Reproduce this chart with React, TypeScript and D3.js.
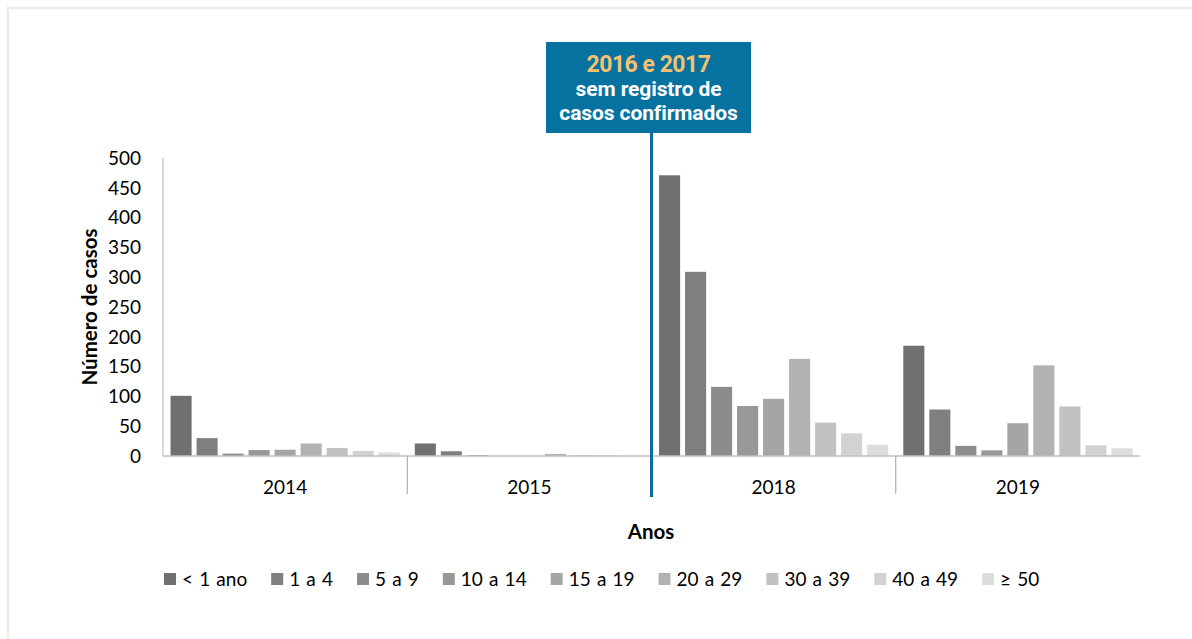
import React, { useEffect, useRef } from "react";
import * as d3 from "d3";

const years = ["2014", "2015", "2018", "2019"];
const ageGroups = ["< 1 ano", "1 a 4", "5 a 9", "10 a 14", "15 a 19", "20 a 29", "30 a 39", "40 a 49", "≥ 50"];
const colors = ["#707070", "#7f7f7f", "#8c8c8c", "#989898", "#a5a5a5", "#b2b2b2", "#c2c2c2", "#d2d2d2", "#dddddd"];
const values2014 = [101, 30, 4, 10, 10.5, 21, 13.5, 8.5, 6];
const values2015 = [21, 8, 1.5, 0, 0, 3.5, 1, 1, 0];
const values2018 = [471, 309, 116, 84, 96, 163, 56, 38, 19];
const values2019 = [185, 78, 17, 9.5, 55, 152, 83, 18, 13];
const seriesByYear = [values2014, values2015, values2018, values2019];
const yTicks = [0, 50, 100, 150, 200, 250, 300, 350, 400, 450, 500];

const FONT = "Lato, 'Open Sans', sans-serif";
const FS = 19;

export default function App() {
  const ref = useRef<SVGSVGElement | null>(null);

  useEffect(() => {
    const svg = d3.select(ref.current);
    svg.selectAll("*").remove();

    const W = 1192, H = 639;
    const left = 163, right = 1140, top = 158, bottom = 456;

    // frame
    svg.append("path")
      .attr("d", `M8,${H} L8,8 L${W},8`)
      .attr("fill", "none")
      .attr("stroke", "#ebebe7")
      .attr("stroke-width", 2.5);

    const x = d3.scaleBand<string>().domain(years).range([left, right]).padding(0);
    const xi = d3.scaleBand<string>().domain(ageGroups).range([0, x.bandwidth()]).paddingInner(0.19).paddingOuter(0.29);
    const y = d3.scaleLinear().domain([0, 500]).range([bottom, top]);

    // bars
    years.forEach((yr, gi) => {
      const g = svg.append("g").attr("transform", `translate(${x(yr)},0)`);
      seriesByYear[gi].forEach((v, si) => {
        g.append("rect")
          .attr("x", xi(ageGroups[si])!)
          .attr("y", y(v))
          .attr("width", xi.bandwidth())
          .attr("height", Math.max(0, y(0) - y(v)))
          .attr("fill", colors[si]);
      });
    });

    // axes
    svg.append("line").attr("x1", left).attr("x2", left).attr("y1", top).attr("y2", bottom)
      .attr("stroke", "#bfbfbf").attr("stroke-width", 1.2);
    svg.append("line").attr("x1", left).attr("x2", right).attr("y1", bottom).attr("y2", bottom)
      .attr("stroke", "#bfbfbf").attr("stroke-width", 1.5);

    // group separators
    years.slice(1).forEach((yr) => {
      const xx = x(yr)!;
      svg.append("line").attr("x1", xx).attr("x2", xx).attr("y1", bottom).attr("y2", 494)
        .attr("stroke", "#a0a0a0").attr("stroke-width", 1);
    });

    // y ticks
    yTicks.forEach((t) => {
      svg.append("text")
        .attr("x", 141).attr("y", y(t)).attr("dy", "0.36em")
        .attr("text-anchor", "end")
        .attr("font-family", FONT).attr("font-size", FS).attr("fill", "#000")
        .text(t);
    });

    // x labels
    years.forEach((yr) => {
      svg.append("text")
        .attr("x", x(yr)! + x.bandwidth() / 2).attr("y", 494)
        .attr("text-anchor", "middle")
        .attr("font-family", FONT).attr("font-size", FS).attr("fill", "#000")
        .text(yr);
    });

    // axis titles
    svg.append("text")
      .attr("transform", `translate(97,${(top + bottom) / 2}) rotate(-90)`)
      .attr("text-anchor", "middle")
      .attr("font-family", FONT).attr("font-weight", "bold").attr("font-size", 20.5)
      .text("Número de casos");
    svg.append("text")
      .attr("x", 651).attr("y", 539)
      .attr("text-anchor", "middle")
      .attr("font-family", FONT).attr("font-weight", "bold").attr("font-size", 20.5)
      .text("Anos");

    // legend
    let lx = 164;
    const ly = 573;
    ageGroups.forEach((name, i) => {
      svg.append("rect").attr("x", lx).attr("y", ly).attr("width", 12).attr("height", 12).attr("fill", colors[i]);
      const t = svg.append("text")
        .attr("x", lx + 18).attr("y", ly + 13)
        .attr("font-family", FONT).attr("font-size", FS).attr("fill", "#000")
        .attr("word-spacing", 1.3)
        .text(name);
      const w = (t.node() as SVGTextElement).getComputedTextLength();
      lx = lx + 18 + w + 24;
    });

    // annotation line & box
    const bx = x("2018")!;
    svg.append("line").attr("x1", bx).attr("x2", bx).attr("y1", 130).attr("y2", 497)
      .attr("stroke", "#0b6e9b").attr("stroke-width", 3);
    svg.append("rect").attr("x", 546).attr("y", 42).attr("width", 205).attr("height", 91)
      .attr("fill", "#05729f");
    const ann = svg.append("g").attr("font-family", "Roboto, 'Open Sans', sans-serif").attr("font-weight", "bold").attr("text-anchor", "middle");
    ann.append("text").attr("x", 648.5).attr("y", 72).attr("font-size", 23).attr("fill", "#f6c16f")
      .attr("letter-spacing", -0.5).text("2016 e 2017");
    ann.append("text").attr("x", 648.5).attr("y", 96).attr("font-size", 21).attr("fill", "#ffffff")
      .attr("letter-spacing", -0.1).text("sem registro de");
    ann.append("text").attr("x", 648.5).attr("y", 120).attr("font-size", 21).attr("fill", "#ffffff")
      .attr("letter-spacing", -0.1).text("casos confirmados");
  }, []);

  return (
    <svg ref={ref} width={1192} height={639} style={{ position: "absolute", left: 0, top: 0, background: "#fff" }} />
  );
}
